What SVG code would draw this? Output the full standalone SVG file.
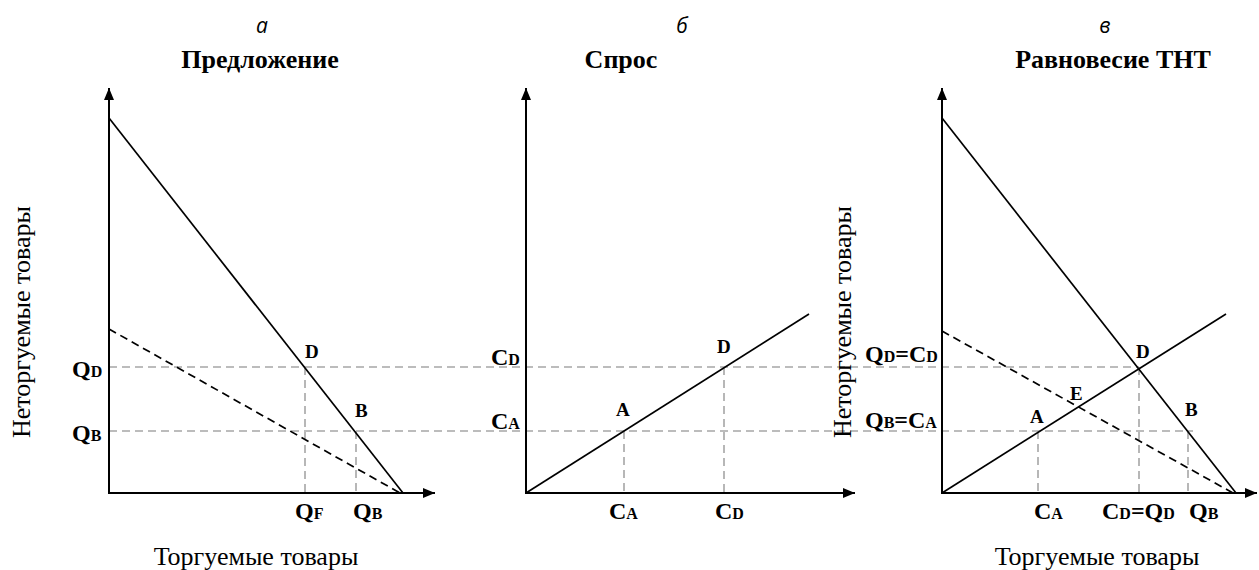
<svg xmlns="http://www.w3.org/2000/svg" width="1259" height="570" viewBox="0 0 1259 570">
<style>
.ax{stroke:#000;stroke-width:2;fill:none}
.cv{stroke:#000;stroke-width:1.7;fill:none}
.cvd{stroke:#000;stroke-width:1.7;fill:none;stroke-dasharray:8 5}
.gd{stroke:#a6a6a6;stroke-width:1.6;fill:none;stroke-dasharray:8 5}
.lbl{font-family:"Liberation Serif","Times New Roman",serif;font-weight:bold;font-size:24px;fill:#000}
.sub{font-size:16px}
.pt{font-family:"Liberation Serif","Times New Roman",serif;font-weight:bold;font-size:19px;fill:#000}
.ttl{font-family:"Liberation Serif","Times New Roman",serif;font-weight:bold;font-size:26px;fill:#000;text-anchor:middle}
.let{font-family:"Open Sans",sans-serif;font-style:italic;font-size:21px;fill:#000;text-anchor:middle}
.axl{font-family:"Liberation Serif","Times New Roman",serif;font-size:26px;fill:#000;text-anchor:middle}
</style>
<defs>
<marker id="ah" viewBox="0 0 12 10" refX="12" refY="5" markerWidth="12" markerHeight="10" markerUnits="userSpaceOnUse" orient="auto">
<path d="M0,0 L12,5 L0,10 Z" fill="#000"/>
</marker>
</defs>
<g id="guides">
<line class="gd" x1="109" y1="367" x2="1139" y2="367"/>
<line class="gd" x1="109" y1="431" x2="1193" y2="431"/>
<line class="gd" x1="305" y1="367" x2="305" y2="493"/>
<line class="gd" x1="356" y1="431" x2="356" y2="493"/>
<line class="gd" x1="624" y1="431" x2="624" y2="493"/>
<line class="gd" x1="724" y1="367" x2="724" y2="493"/>
<line class="gd" x1="1038" y1="431" x2="1038" y2="493"/>
<line class="gd" x1="1139" y1="367" x2="1139" y2="493"/>
<line class="gd" x1="1188" y1="431" x2="1188" y2="493"/>
</g>
<g id="panel-a">
<text class="let" x="262" y="33">а</text>
<text class="ttl" x="260" y="68">Предложение</text>
<line class="ax" x1="109" y1="494" x2="109" y2="88" marker-end="url(#ah)"/>
<line class="ax" x1="108" y1="493" x2="435" y2="493" marker-end="url(#ah)"/>
<line class="cv" x1="109" y1="118" x2="403" y2="493"/>
<line class="cvd" x1="109" y1="329" x2="400" y2="493"/>
<text class="lbl" x="72" y="377">Q<tspan class="sub">D</tspan></text>
<text class="lbl" x="72" y="441">Q<tspan class="sub">B</tspan></text>
<text class="pt" x="305" y="358">D</text>
<text class="pt" x="355" y="417">B</text>
<text class="lbl" x="295" y="519">Q<tspan class="sub">F</tspan></text>
<text class="lbl" x="353" y="519">Q<tspan class="sub">B</tspan></text>
<text class="axl" x="256" y="565">Торгуемые товары</text>
<text class="axl" transform="translate(30,322) rotate(-90)">Неторгуемые товары</text>
</g>
<g id="panel-b">
<text class="let" x="682" y="33">б</text>
<text class="ttl" x="621" y="68">Спрос</text>
<line class="ax" x1="526" y1="494" x2="526" y2="88" marker-end="url(#ah)"/>
<line class="ax" x1="525" y1="493" x2="855" y2="493" marker-end="url(#ah)"/>
<line class="cv" x1="526" y1="493" x2="809" y2="314"/>
<text class="lbl" x="491" y="365">C<tspan class="sub">D</tspan></text>
<text class="lbl" x="491" y="429">C<tspan class="sub">A</tspan></text>
<text class="pt" x="616" y="416">A</text>
<text class="pt" x="717" y="353">D</text>
<text class="lbl" x="609" y="519">C<tspan class="sub">A</tspan></text>
<text class="lbl" x="715" y="519">C<tspan class="sub">D</tspan></text>
</g>
<g id="panel-c">
<text class="let" x="1105" y="33">в</text>
<text class="ttl" x="1113" y="68">Равновесие ТНТ</text>
<line class="ax" x1="942" y1="494" x2="942" y2="88" marker-end="url(#ah)"/>
<line class="ax" x1="941" y1="493" x2="1257" y2="493" marker-end="url(#ah)"/>
<line class="cv" x1="942" y1="118" x2="1236" y2="493"/>
<line class="cvd" x1="942" y1="331" x2="1233" y2="493"/>
<line class="cv" x1="942" y1="493" x2="1226" y2="314"/>
<text class="lbl" x="865" y="362">Q<tspan class="sub">D</tspan>=C<tspan class="sub">D</tspan></text>
<text class="lbl" x="865" y="428">Q<tspan class="sub">B</tspan>=C<tspan class="sub">A</tspan></text>
<text class="pt" x="1030" y="423">A</text>
<text class="pt" x="1070" y="400">E</text>
<text class="pt" x="1136" y="358">D</text>
<text class="pt" x="1185" y="416">B</text>
<text class="lbl" x="1034" y="519">C<tspan class="sub">A</tspan></text>
<text class="lbl" x="1102" y="519">C<tspan class="sub">D</tspan>=Q<tspan class="sub">D</tspan></text>
<text class="lbl" x="1189" y="519">Q<tspan class="sub">B</tspan></text>
<text class="axl" x="1097" y="565">Торгуемые товары</text>
<text class="axl" transform="translate(851,322) rotate(-90)">Неторгуемые товары</text>
</g>
</svg>
